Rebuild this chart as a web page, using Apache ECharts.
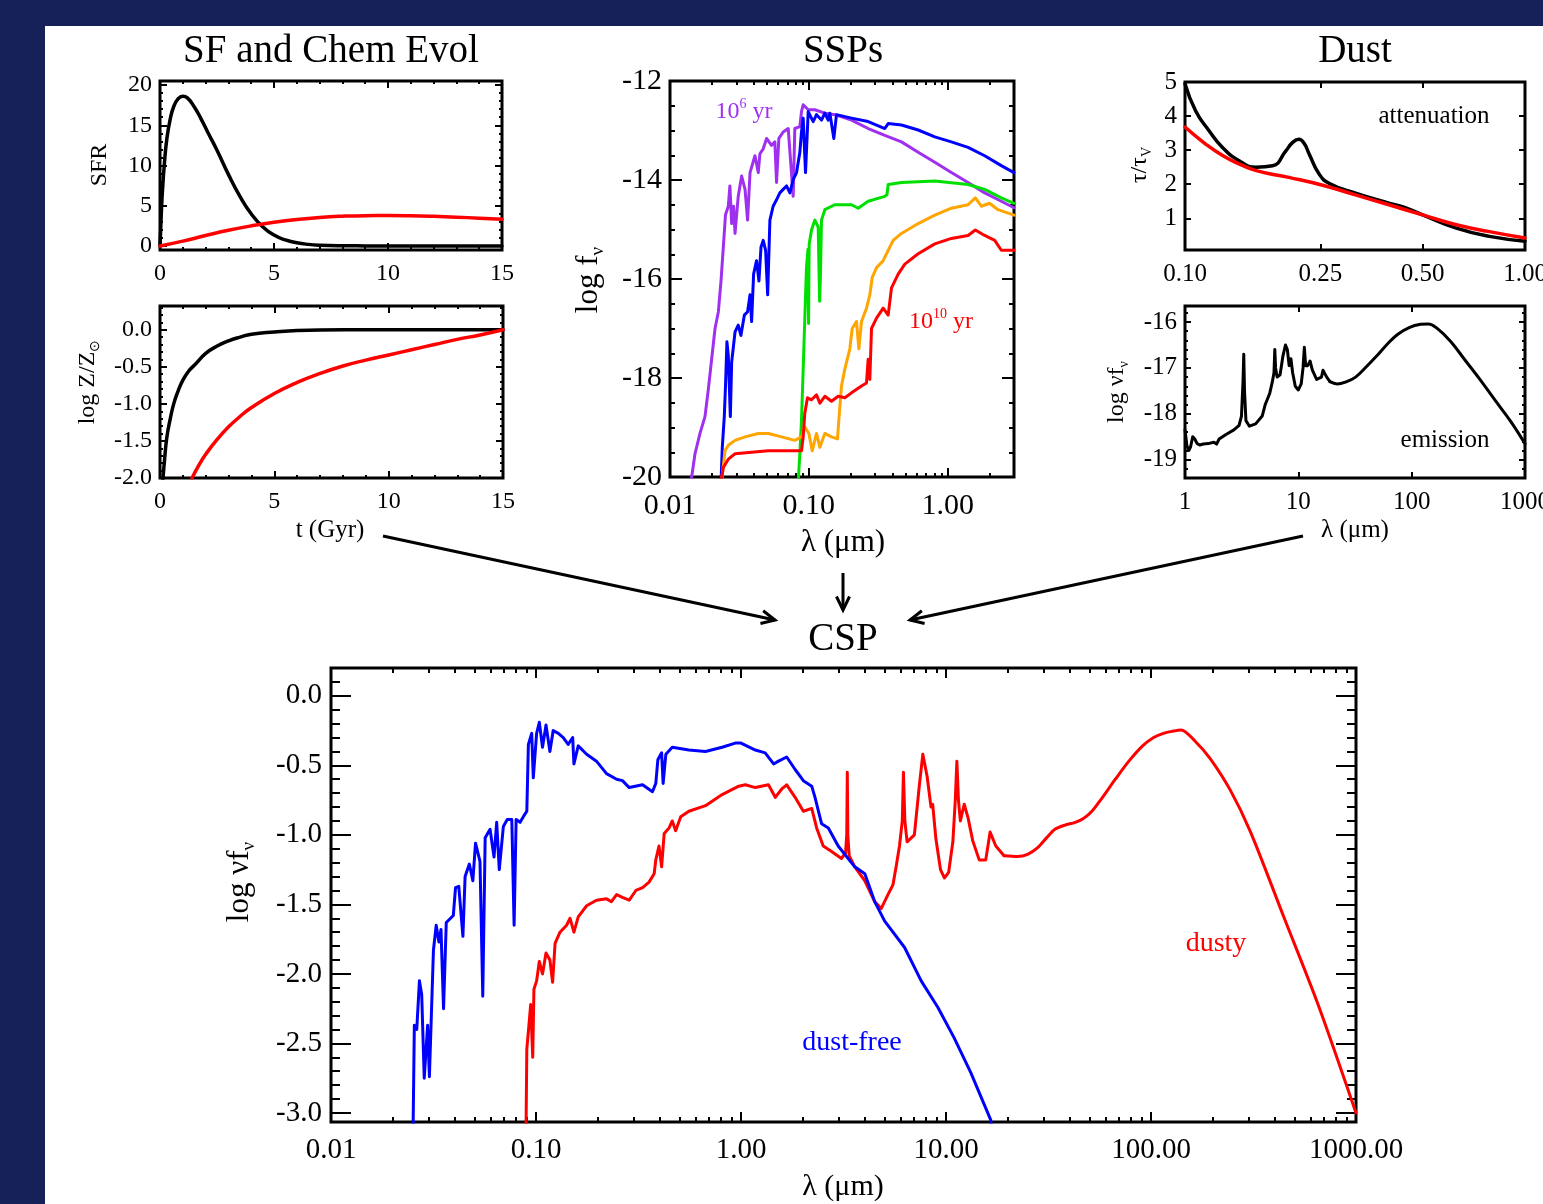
<!DOCTYPE html>
<html>
<head>
<meta charset="utf-8">
<script src="https://cdn.jsdelivr.net/npm/echarts@6.0.0/dist/echarts.min.js"></script>
<style>
html, body { margin: 0; padding: 0; background: #172159; }
#sheet { position: absolute; left: 45px; top: 26px; width: 1498px; height: 1178px; background: #fff; }
#main { position: absolute; left: 0; top: 0; width: 1543px; height: 1204px; }
</style>
</head>
<body>
<div id="sheet"></div>
<div id="main"></div>
<script>
// ---- SF and chem evol (t in Gyr) ----
const sfrBurstT = [0, 0.05, 0.1, 0.2, 0.3, 0.45, 0.6, 0.8, 1.0, 1.2, 1.5, 1.8, 2.1, 2.5, 3.0, 3.5, 4.0, 4.5, 5.0, 5.5, 6.0, 6.5, 7.0, 8.0, 9.0, 10, 12, 15];
const sfrBurst  = [0, 3.5, 6.5, 10.5, 13.3, 15.8, 17.3, 18.3, 18.6, 18.4, 17.3, 15.8, 14.1, 11.9, 8.9, 6.2, 4.0, 2.4, 1.35, 0.75, 0.4, 0.2, 0.1, 0.03, 0.01, 0, 0, 0];
const sfrSlowT  = [0, 1, 2, 3, 4, 5, 6, 7, 8, 9, 10, 11, 12, 13, 14, 15];
const sfrSlow   = [0, 0.6, 1.3, 1.95, 2.5, 2.95, 3.3, 3.55, 3.7, 3.77, 3.78, 3.75, 3.68, 3.58, 3.46, 3.33];
const zFastT = [0.12, 0.2, 0.3, 0.45, 0.6, 0.8, 1.0, 1.25, 1.5, 2, 2.5, 3, 3.5, 4, 5, 6, 8, 10, 15];
const zFast  = [-2.05, -1.75, -1.45, -1.2, -1.0, -0.82, -0.68, -0.56, -0.48, -0.32, -0.22, -0.15, -0.1, -0.06, -0.03, -0.01, 0, 0, 0];
const zSlowT = [1.4, 1.75, 2, 2.5, 3, 3.5, 4, 5, 6, 7, 8, 9, 10, 11, 12, 13, 14, 15];
const zSlow  = [-2.0, -1.8, -1.68, -1.48, -1.31, -1.17, -1.05, -0.86, -0.71, -0.59, -0.49, -0.41, -0.34, -0.27, -0.2, -0.13, -0.07, 0.0];

// ---- SSPs: [lambda (um), log f_nu] ----
const sspPurple = [[0.01416,-20.1],[0.01514,-19.53],[0.01644,-19.12],[0.01786,-18.78],[0.01888,-18.23],[0.01995,-17.62],[0.0211,-17.0],[0.0223,-16.66],[0.0233,-16.04],[0.0242,-15.36],[0.0251,-14.7],[0.0263,-14.53],[0.027,-14.12],[0.0278,-14.88],[0.0287,-14.53],[0.0294,-15.08],[0.031,-14.33],[0.0328,-13.92],[0.0347,-14.19],[0.0362,-14.81],[0.0377,-13.85],[0.0409,-13.51],[0.0432,-13.85],[0.0444,-13.47],[0.0469,-13.37],[0.0496,-13.16],[0.0538,-13.3],[0.0569,-13.23],[0.0585,-14.05],[0.0608,-13.16],[0.0653,-13.03],[0.071,-12.96],[0.0771,-14.33],[0.0792,-12.96],[0.0861,-12.92],[0.0885,-12.62],[0.091,-12.48],[0.0989,-12.58],[0.1104,-12.58],[0.1303,-12.65],[0.1538,-12.68],[0.2028,-12.79],[0.2673,-12.96],[0.3524,-13.1],[0.4645,-13.23],[0.6124,-13.44],[0.807,-13.64],[1.062,-13.85],[1.40,-14.05],[1.845,-14.26],[2.43,-14.43],[3.0,-14.56]];
const sspBlue = [[0.0233,-20.1],[0.0238,-19.4],[0.0246,-18.78],[0.0251,-18.16],[0.0257,-17.27],[0.0263,-17.55],[0.0272,-18.78],[0.0278,-17.68],[0.0294,-17.07],[0.031,-16.93],[0.0324,-17.14],[0.0343,-16.73],[0.0362,-16.66],[0.0377,-16.32],[0.0387,-16.86],[0.04,-15.9],[0.042,-15.63],[0.0437,-16.04],[0.0452,-15.36],[0.0469,-15.22],[0.0488,-15.42],[0.0505,-16.32],[0.0524,-14.81],[0.0553,-14.53],[0.0585,-14.4],[0.0618,-14.26],[0.0653,-14.19],[0.069,-14.12],[0.073,-14.26],[0.0771,-13.99],[0.0815,-13.85],[0.0861,-13.44],[0.0885,-13.03],[0.091,-12.75],[0.0946,-13.85],[0.0989,-12.62],[0.1074,-12.82],[0.1135,-12.68],[0.1233,-12.79],[0.1303,-12.65],[0.1377,-12.79],[0.1416,-12.65],[0.1513,-13.16],[0.1581,-12.68],[0.2028,-12.75],[0.2673,-12.82],[0.3524,-12.96],[0.3724,-12.86],[0.4645,-12.89],[0.6124,-12.99],[0.807,-13.13],[1.062,-13.23],[1.40,-13.34],[1.845,-13.51],[2.43,-13.71],[3.0,-13.85]];
const sspGreen = [[0.0838,-20.1],[0.0861,-19.53],[0.0885,-18.85],[0.091,-17.82],[0.0935,-16.79],[0.0961,-15.77],[0.0985,-15.4],[0.0995,-16.9],[0.1005,-15.3],[0.1045,-15.01],[0.1104,-14.81],[0.1167,-14.95],[0.1195,-16.45],[0.121,-16.0],[0.1233,-14.81],[0.1303,-14.6],[0.1538,-14.5],[0.2028,-14.5],[0.2265,-14.57],[0.2673,-14.43],[0.3524,-14.33],[0.365,-14.3],[0.3724,-14.09],[0.4645,-14.05],[0.807,-14.02],[1.40,-14.09],[1.845,-14.19],[2.43,-14.36],[3.0,-14.47]];
const sspOrange = [[0.0235,-20.1],[0.0249,-19.47],[0.0263,-19.36],[0.0294,-19.26],[0.0347,-19.19],[0.0432,-19.12],[0.051,-19.12],[0.0636,-19.19],[0.0792,-19.26],[0.0885,-19.19],[0.0935,-18.99],[0.1,-19.12],[0.1057,-19.47],[0.1135,-19.12],[0.12,-19.4],[0.1303,-19.12],[0.1455,-19.19],[0.1607,-19.23],[0.1643,-18.85],[0.1718,-18.16],[0.1815,-17.82],[0.1972,-17.41],[0.2051,-17.0],[0.2203,-16.86],[0.2291,-17.41],[0.2393,-16.86],[0.26,-16.59],[0.2748,-16.32],[0.2858,-15.97],[0.307,-15.77],[0.3428,-15.63],[0.3724,-15.42],[0.4046,-15.22],[0.4645,-15.08],[0.6124,-14.88],[0.807,-14.71],[1.062,-14.57],[1.40,-14.5],[1.58,-14.36],[1.746,-14.53],[2.0,-14.47],[2.3,-14.6],[3.0,-14.71]];
const sspRed = [[0.0233,-20.1],[0.0242,-19.81],[0.0263,-19.64],[0.0294,-19.53],[0.0387,-19.5],[0.051,-19.47],[0.0671,-19.47],[0.0885,-19.47],[0.091,-19.19],[0.0935,-18.71],[0.0977,-18.4],[0.1045,-18.44],[0.1135,-18.34],[0.12,-18.51],[0.1303,-18.37],[0.1455,-18.47],[0.1625,-18.37],[0.1815,-18.4],[0.2028,-18.3],[0.2393,-18.16],[0.26,-18.1],[0.2673,-17.62],[0.2748,-18.03],[0.2825,-17.0],[0.307,-16.79],[0.3428,-16.59],[0.3724,-16.73],[0.3936,-16.18],[0.4395,-15.9],[0.4909,-15.7],[0.6124,-15.49],[0.807,-15.29],[1.062,-15.18],[1.40,-15.12],[1.58,-15.01],[1.845,-15.12],[2.18,-15.22],[2.43,-15.42],[3.0,-15.42]];

// ---- Dust ----
const attLam   = [0.100, 0.1075, 0.1177, 0.1289, 0.1443, 0.1616, 0.181, 0.198, 0.207, 0.2162, 0.224, 0.232, 0.248, 0.266, 0.319, 0.4, 0.44, 0.5, 0.628, 0.786, 1.0];
const attBump  = [4.95, 4.15, 3.57, 3.08, 2.69, 2.5, 2.54, 2.98, 3.22, 3.32, 3.2, 2.88, 2.3, 2.02, 1.73, 1.44, 1.33, 1.1, 0.71, 0.47, 0.33];
const attPowLam = [0.1, 0.115, 0.129, 0.144, 0.162, 0.202, 0.254, 0.319, 0.4, 0.5, 0.628, 0.786, 1.0];
const attPow    = [3.68, 3.18, 2.84, 2.6, 2.4, 2.2, 1.97, 1.68, 1.39, 1.1, 0.81, 0.61, 0.42];
const dustEmisMir = [[1.0,-18.35],[1.04,-18.7],[1.08,-18.8],[1.12,-18.72],[1.17,-18.5],[1.22,-18.55],[1.28,-18.65],[1.35,-18.68],[1.45,-18.66],[1.6,-18.65],[1.8,-18.62],[1.9,-18.66],[2.0,-18.55],[2.3,-18.45],[2.7,-18.35],[3.0,-18.25],[3.15,-18.05],[3.25,-17.3],[3.3,-16.7],[3.35,-17.5],[3.45,-18.15],[3.7,-18.27],[4.2,-18.22],[4.8,-18.05],[5.1,-17.8],[5.3,-17.7],[5.6,-17.55],[5.9,-17.3],[6.1,-17.1],[6.2,-16.6],[6.3,-17.0],[6.5,-17.2],[6.9,-17.15],[7.3,-16.75],[7.7,-16.5],[8.0,-16.6],[8.3,-16.95],[8.6,-16.8],[8.9,-17.1],[9.4,-17.4],[10.0,-17.48],[10.6,-17.35],[11.0,-17.0],[11.3,-16.55],[11.6,-16.95],[12.1,-16.95],[12.7,-16.85],[13.3,-17.05],[14.5,-17.25],[16.0,-17.2],[16.5,-17.05],[17.0,-17.05],[17.8,-17.2],[19,-17.3]];
const dustEmisFir = [[19,-17.3],[22,-17.35],[26,-17.31],[32,-17.2],[40,-16.97],[50,-16.72],[60,-16.5],[75,-16.27],[95,-16.12],[120,-16.05],[140,-16.04],[170,-16.15],[220,-16.42],[300,-16.85],[400,-17.25],[550,-17.72],[750,-18.17],[1000,-18.65]];

// ---- CSP: [lambda (um), log nu f_nu] ----
const cspFree = [[0.0251,-3.2],[0.0255,-2.37],[0.0262,-2.40],[0.027,-2.05],[0.0277,-2.15],[0.0285,-2.75],[0.0296,-2.37],[0.0302,-2.74],[0.0316,-1.83],[0.0326,-1.65],[0.0336,-1.77],[0.0344,-1.68],[0.0354,-2.25],[0.0365,-1.63],[0.0395,-1.58],[0.0405,-1.38],[0.042,-1.37],[0.044,-1.73],[0.0451,-1.30],[0.0473,-1.21],[0.0492,-1.33],[0.0507,-1.06],[0.0533,-1.19],[0.055,-2.16],[0.0565,-1.02],[0.0597,-0.96],[0.0624,-1.16],[0.0643,-0.91],[0.0662,-1.25],[0.0693,-0.94],[0.0724,-0.89],[0.0762,-0.89],[0.0782,-1.65],[0.080,-0.89],[0.0836,-0.91],[0.0875,-0.86],[0.0902,-0.83],[0.0918,-0.35],[0.0953,-0.27],[0.097,-0.59],[0.1007,-0.27],[0.1038,-0.19],[0.1076,-0.37],[0.1119,-0.21],[0.1169,-0.4],[0.1213,-0.25],[0.1285,-0.27],[0.1358,-0.30],[0.1435,-0.35],[0.151,-0.30],[0.1531,-0.49],[0.1607,-0.36],[0.1766,-0.42],[0.1972,-0.47],[0.2208,-0.56],[0.2472,-0.6],[0.264,-0.61],[0.285,-0.66],[0.331,-0.64],[0.37,-0.69],[0.384,-0.63],[0.393,-0.46],[0.41,-0.41],[0.417,-0.63],[0.43,-0.42],[0.462,-0.37],[0.557,-0.39],[0.671,-0.40],[0.809,-0.37],[0.938,-0.34],[1.0,-0.34],[1.175,-0.39],[1.312,-0.41],[1.442,-0.49],[1.524,-0.47],[1.671,-0.44],[1.837,-0.53],[2.014,-0.61],[2.213,-0.65],[2.296,-0.73],[2.472,-0.92],[2.667,-0.95],[2.979,-1.08],[3.589,-1.23],[4.018,-1.28],[4.487,-1.48],[5.023,-1.62],[6.281,-1.81],[7.568,-2.05],[9.12,-2.24],[10.96,-2.46],[13.21,-2.71],[16.52,-3.05],[17.0,-3.2]];
const cspDustyUv = [[0.0893,-3.2],[0.0902,-2.54],[0.0921,-2.39],[0.0942,-2.22],[0.0964,-2.6],[0.0977,-2.11],[0.1007,-2.05],[0.1038,-1.91],[0.1076,-2.0],[0.1119,-1.85],[0.1169,-1.9],[0.1205,-2.06],[0.1239,-1.78],[0.1309,-1.70],[0.141,-1.65],[0.1466,-1.6],[0.1531,-1.70],[0.1607,-1.59],[0.1766,-1.51],[0.1972,-1.47],[0.2208,-1.46],[0.2333,-1.48],[0.2472,-1.43],[0.264,-1.45],[0.285,-1.47],[0.307,-1.40],[0.331,-1.38],[0.356,-1.34],[0.377,-1.28],[0.384,-1.18],[0.398,-1.08],[0.41,-1.23],[0.422,-0.99],[0.446,-0.95],[0.462,-0.90],[0.48,-0.97],[0.508,-0.87],[0.557,-0.83],[0.671,-0.79],[0.809,-0.71],[0.975,-0.65],[1.05,-0.64],[1.175,-0.66],[1.361,-0.64],[1.469,-0.73],[1.581,-0.67],[1.671,-0.64],[1.837,-0.73],[2.014,-0.83],[2.213,-0.81],[2.339,-0.95],[2.518,-1.08],[2.767,-1.12],[3.09,-1.17],[3.236,-1.13],[3.28,-1.0],[3.30,-0.55],[3.32,-1.0],[3.37,-1.15],[3.589,-1.23],[4.018,-1.33],[4.487,-1.48],[4.83,-1.53],[5.21,-1.43],[5.51,-1.36],[5.71,-1.23],[5.93,-1.08],[6.12,-0.9],[6.2,-0.55],[6.3,-0.9],[6.46,-1.05],[7.01,-1.0],[7.43,-0.63],[7.71,-0.42],[8.09,-0.58],[8.45,-0.80],[8.61,-0.78],[8.93,-1.03],[9.4,-1.25],[9.82,-1.31],[10.3,-1.27],[10.8,-1.05],[11.1,-0.75],[11.3,-0.47],[11.5,-0.75],[11.75,-0.90],[12.27,-0.78],[12.82,-0.88],[13.49,-1.04],[14.52,-1.18],[15.63,-1.18],[16.41,-0.98],[17.5,-1.08],[19.19,-1.15]];
const cspDustyFir = [[19.19,-1.15],[22.3,-1.155],[25,-1.14],[28.1,-1.09],[31,-1.02],[34,-0.96],[38,-0.93],[42.7,-0.91],[47,-0.88],[51.5,-0.83],[58,-0.73],[67,-0.6],[78,-0.47],[91,-0.36],[103,-0.3],[115,-0.27],[127,-0.255],[140,-0.245],[165,-0.33],[194,-0.45],[244,-0.68],[306,-0.98],[447,-1.6],[653,-2.22],[1000,-3.0]];

// ---- tick labels ----
const tTicks = [0, 5, 10, 15];
const sfrTicks = [0, 5, 10, 15, 20];
const zTicks = [-2, -1.5, -1, -0.5, 0];
const sspLamTicks = [0.01, 0.1, 1];
const sspTicks = [-20, -18, -16, -14, -12];
const attLamTicks = [0.1, 0.25, 0.5, 1];
const attTicks = [1, 2, 3, 4, 5];
const emisLamTicks = [1, 10, 100, 1000];
const emisTicks = [-19, -18, -17, -16];
const cspLamTicks = [0.01, 0.1, 1, 10, 100, 1000];
const cspTicks = [-3, -2.5, -2, -1.5, -1, -0.5, 0];

const FONT = "'Liberation Serif','Times New Roman',serif";
const lg = v => Math.log10(v);

function linSteps(a, b, s) {
  const out = [], n = Math.round((b - a) / s);
  for (let i = 0; i <= n; i++) out.push(+(a + i * s).toFixed(6));
  return out;
}
function logMinor(a, b) {
  const out = [];
  for (let d = Math.floor(a); d <= Math.ceil(b); d++)
    for (let k = 2; k <= 9; k++) { const v = d + Math.log10(k); if (v >= a && v <= b) out.push(v); }
  return out;
}

const grids = [], xAxes = [], yAxes = [];

function mkAxis(gi, pos, spec, withLabel, len, margin, font, minorOnly) {
  const ticks = minorOnly ? spec.minor : spec.major;
  return {
    gridIndex: gi, type: 'value', position: pos, min: spec.min, max: spec.max,
    axisLine: { show: false, onZero: false },
    splitLine: { show: false },
    axisTick: { show: true, inside: true, length: len, customValues: ticks, lineStyle: { color: '#000', width: 2 } },
    axisLabel: {
      show: withLabel && !minorOnly, customValues: spec.major, formatter: spec.fmt,
      fontFamily: FONT, fontSize: font, color: '#000', margin: margin
    }
  };
}

function addPanel(p) {
  const gi = grids.length;
  grids.push(Object.assign({ show: true, borderColor: '#000', borderWidth: 3, backgroundColor: 'transparent', outerBoundsMode: 'none', containLabel: false }, p.grid));
  const xi = xAxes.length, yi = yAxes.length;
  [['bottom', true], ['top', false]].forEach(([pos, lab]) => {
    xAxes.push(mkAxis(gi, pos, p.x, lab, p.x.tick[0], p.x.margin, p.font));
    if (p.x.minor) xAxes.push(mkAxis(gi, pos, p.x, false, p.x.tick[1], 0, p.font, true));
  });
  [['left', true], ['right', false]].forEach(([pos, lab]) => {
    yAxes.push(mkAxis(gi, pos, p.y, lab, p.y.tick[0], p.y.margin, p.font));
    if (p.y.minor) yAxes.push(mkAxis(gi, pos, p.y, false, p.y.tick[1], 0, p.font, true));
  });
  return { xi, yi };
}

const fmtInt = v => String(Math.round(v));
const fmt1 = v => v.toFixed(1);
const fmtLog2 = v => Math.pow(10, v).toFixed(2);
const fmtLog0 = v => Math.pow(10, v).toFixed(0);

const pSfr = addPanel({
  grid: { left: 160, top: 81, width: 342, height: 169 }, font: 24,
  x: { min: 0, max: 15, major: tTicks, minor: linSteps(0, 15, 1), fmt: fmtInt, tick: [7, 3], margin: 12 },
  y: { min: -0.5, max: 20.5, major: sfrTicks, minor: linSteps(0, 20, 1), fmt: fmtInt, tick: [7, 3], margin: 8 }
});
const pZ = addPanel({
  grid: { left: 160, top: 306, width: 343, height: 172 }, font: 24,
  x: { min: 0, max: 15, major: tTicks, minor: linSteps(0, 15, 1), fmt: fmtInt, tick: [7, 3], margin: 12 },
  y: { min: -2, max: 0.32, major: zTicks, minor: linSteps(-2, 0.3, 0.1), fmt: fmt1, tick: [7, 3], margin: 8 }
});
const pSsp = addPanel({
  grid: { left: 670, top: 81, width: 344, height: 396 }, font: 30,
  x: { min: -2, max: lg(3), major: sspLamTicks.map(lg), minor: logMinor(-2, lg(3)), fmt: fmtLog2, tick: [9, 4], margin: 14 },
  y: { min: -20, max: -12, major: sspTicks, minor: linSteps(-20, -12, 0.5), fmt: fmtInt, tick: [12, 5], margin: 8 }
});
const pAtt = addPanel({
  grid: { left: 1185, top: 82, width: 340, height: 168 }, font: 25,
  x: { min: -1, max: 0, major: attLamTicks.map(lg), fmt: fmtLog2, tick: [6, 3], margin: 12 },
  y: { min: 0.07, max: 5, major: attTicks, fmt: fmtInt, tick: [6, 3], margin: 8 }
});
const pEmis = addPanel({
  grid: { left: 1185, top: 306, width: 340, height: 172 }, font: 25,
  x: { min: 0, max: 3, major: emisLamTicks.map(lg), fmt: fmtLog0, tick: [6, 3], margin: 12 },
  y: { min: -19.4, max: -15.65, major: emisTicks, minor: linSteps(-19.4, -15.6, 0.2), fmt: fmtInt, tick: [6, 3], margin: 8 }
});
const pCsp = addPanel({
  grid: { left: 331, top: 668, width: 1025, height: 454 }, font: 29,
  x: { min: -2, max: 3, major: cspLamTicks.map(lg), minor: logMinor(-2, 3), fmt: fmtLog2, tick: [10, 5], margin: 14 },
  y: { min: -3.065, max: 0.2, major: cspTicks, minor: linSteps(-3, 0.2, 0.1), fmt: fmt1, tick: [20, 9], margin: 9 }
});

const zipXY = (xs, ys) => xs.map((x, i) => [x, ys[i]]);
const zipLog = (xs, ys) => xs.map((x, i) => [lg(x), ys[i]]);
const logPairs = arr => arr.map(p => [lg(p[0]), p[1]]);

function line(panel, data, color, width, smooth) {
  return {
    type: 'line', xAxisIndex: panel.xi, yAxisIndex: panel.yi, data: data,
    showSymbol: false, symbol: 'none', smooth: smooth || false,
    lineStyle: { color: color, width: width || 3, cap: 'round', join: 'round' }, itemStyle: { color: color },
    emphasis: { disabled: true }, animation: false, clip: true
  };
}

const series = [
  line(pSfr, zipXY(sfrBurstT, sfrBurst), '#000', 3.5, 0.5),
  line(pSfr, zipXY(sfrSlowT, sfrSlow), '#ff0000', 3.5, 0.5),
  line(pZ, zipXY(zFastT, zFast), '#000', 3.5, 0.5),
  line(pZ, zipXY(zSlowT, zSlow), '#ff0000', 3.5, 0.5),
  line(pSsp, logPairs(sspPurple), '#a030f0', 3),
  line(pSsp, logPairs(sspBlue), '#0000ff', 3),
  line(pSsp, logPairs(sspGreen), '#00e000', 3),
  line(pSsp, logPairs(sspOrange), '#ffa500', 3),
  line(pSsp, logPairs(sspRed), '#ff0000', 3),
  line(pAtt, zipLog(attLam, attBump), '#000', 3.5, 0.5),
  line(pAtt, zipLog(attPowLam, attPow), '#ff0000', 3.5, 0.5),
  line(pEmis, logPairs(dustEmisMir), '#000', 3),
  line(pEmis, logPairs(dustEmisFir), '#000', 3, 0.4),
  line(pCsp, logPairs(cspDustyUv), '#ff0000', 3),
  line(pCsp, logPairs(cspDustyFir), '#ff0000', 3, 0.3),
  line(pCsp, logPairs(cspFree), '#0000ff', 3)
];

// ---- text and arrows ----
function txt(x, y, text, size, color, rot, rich) {
  return {
    type: 'text', x: x, y: y, rotation: rot || 0, silent: true, z: 100,
    style: {
      text: text, fill: color || '#000', font: size + 'px ' + FONT,
      align: 'center', verticalAlign: 'middle', textAlign: 'center', textVerticalAlign: 'middle',
      rich: rich
    }
  };
}
function richSub(size, color) {
  const c = color || '#000';
  return {
    n: { font: size + 'px ' + FONT, fontSize: size, fontFamily: FONT, fill: c, color: c, lineHeight: size * 1.2, verticalAlign: 'middle' },
    s: { font: Math.round(size * 0.6) + 'px ' + FONT, fontSize: Math.round(size * 0.6), fontFamily: FONT, fill: c, color: c, lineHeight: Math.round(size * 0.6), verticalAlign: 'bottom' },
    p: { font: Math.round(size * 0.6) + 'px ' + FONT, fontSize: Math.round(size * 0.6), fontFamily: FONT, fill: c, color: c, lineHeight: Math.round(size * 0.6), verticalAlign: 'top' }
  };
}
function arrow(x1, y1, x2, y2) {
  const a = Math.atan2(y2 - y1, x2 - x1), L = 15, w = 0.45;
  return [
    { type: 'line', silent: true, z: 100, shape: { x1: x1, y1: y1, x2: x2, y2: y2 }, style: { stroke: '#000', lineWidth: 3 } },
    { type: 'polyline', silent: true, z: 100, shape: { points: [[x2 - L * Math.cos(a - w), y2 - L * Math.sin(a - w)], [x2, y2], [x2 - L * Math.cos(a + w), y2 - L * Math.sin(a + w)]] },
      style: { stroke: '#000', lineWidth: 3, fill: null } }
  ];
}
const UP = Math.PI / 2;

const graphics = [
  txt(331, 52, 'SF and Chem Evol', 39),
  txt(843, 52, 'SSPs', 39),
  txt(1355, 52, 'Dust', 39),
  txt(843, 640, 'CSP', 39),
  txt(100, 165, 'SFR', 24, '#000', UP),
  txt(88, 382, '{n|log Z/Z}{s|\u2299}', 24, '#000', UP, richSub(24)),
  txt(330, 530, 't (Gyr)', 25),
  txt(589, 280, '{n|log f}{s|\u03bd}', 31, '#000', UP, richSub(31)),
  txt(843, 543, '\u03bb (\u03bcm)', 31),
  txt(1140, 165, '{n|\u03c4/\u03c4}{s|V}', 24, '#000', UP, richSub(24)),
  txt(1117, 392, '{n|log \u03bdf}{s|\u03bd}', 24, '#000', UP, richSub(24)),
  txt(1355, 530, '\u03bb (\u03bcm)', 25),
  txt(240, 882, '{n|log \u03bdf}{s|\u03bd}', 31, '#000', UP, richSub(31)),
  txt(843, 1187, '\u03bb (\u03bcm)', 30),
  txt(744, 112, '{n|10}{p|6}{n| yr}', 24, '#a030f0', 0, richSub(24, '#a030f0')),
  txt(941, 322, '{n|10}{p|10}{n| yr}', 24, '#ff0000', 0, richSub(24, '#ff0000')),
  txt(1434, 116, 'attenuation', 25),
  txt(1445, 440, 'emission', 25),
  txt(852, 1043, 'dust-free', 28, '#0000ff'),
  txt(1216, 944, 'dusty', 28, '#ff0000')
].concat(arrow(383, 536, 775, 620), arrow(843, 573, 843, 610), arrow(1303, 536, 910, 620));

const chart = echarts.init(document.getElementById('main'), null, { renderer: 'canvas' });
chart.setOption({
  animation: false,
  backgroundColor: 'transparent',
  textStyle: { fontFamily: FONT },
  grid: grids,
  xAxis: xAxes,
  yAxis: yAxes,
  series: series,
  graphic: { elements: graphics }
});
</script>
</body>
</html>
